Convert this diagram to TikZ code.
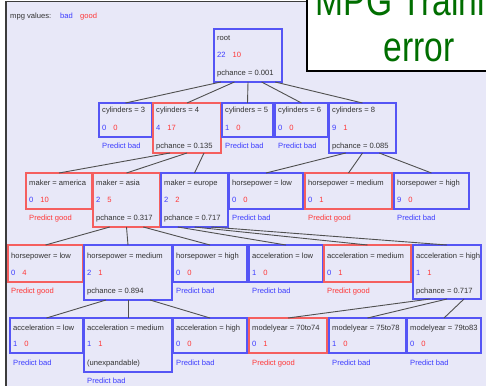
\documentclass[tikz,border=0pt]{standalone}
\usepackage{fontspec}
\setmainfont{Liberation Sans}
\usepackage{graphicx}
\usetikzlibrary{calc}

\definecolor{bgc}{RGB}{232,232,248}
\definecolor{frame}{RGB}{60,60,60}
\definecolor{boxblue}{RGB}{85,85,245}
\definecolor{boxred}{RGB}{245,95,95}
\definecolor{nblue}{RGB}{60,60,255}
\definecolor{nred}{RGB}{255,55,55}
\definecolor{txt}{RGB}{50,50,50}
\definecolor{edgec}{RGB}{80,80,80}
\definecolor{titlegreen}{RGB}{0,110,0}

\tikzset{
  tbx/.style={fill=bgc, line width=1.3pt, inner sep=0pt, outer sep=0pt},
  lbl/.style={anchor=base west, inner sep=0pt, text=txt, font=\fontsize{7.6}{9}\selectfont},
  edge/.style={draw=edgec, line width=0.9pt},
}

% tree node: name, left, right, bottom, border colour, title, bad count, good count, third line
% (top edge and row baselines come from \ytop, \ya, \yb, \yc)
\newcommand\tn[9]{%
  \node[tbx, draw=#5, minimum width={(#3-#2)*1pt}, minimum height={(#4-\ytop)*1pt},
        anchor=north west] (#1) at (#2,\ytop) {};
  \node[lbl] (#1-t) at (#2+3,\ya) {#6};
  \node[lbl] (#1-c) at (#2+3,\yb) {\textcolor{nblue}{#7}\hspace{7pt}\textcolor{nred}{#8}};
  \node[lbl] (#1-p) at (#2+3,\yc) {#9};
}
\newcommand\pbad{\textcolor{nblue}{Predict bad}}
\newcommand\pgood{\textcolor{nred}{Predict good}}

\begin{document}
\begin{tikzpicture}[x=1pt,y=-1pt]
\useasboundingbox (0,0) rectangle (486,385);
\clip (0,0) rectangle (486,385);

% panel
\fill[white] (0,0) rectangle (486,385);
\draw[fill=bgc, draw=frame, line width=1.2pt] (6,1.5) rectangle (495,395);

% legend
\node[lbl] (leg) at (10,18.5) {mpg values:};
\node[lbl, text=nblue] (legbad) at (60,18.5) {bad};
\node[lbl, text=nred] (leggood) at (80,18.5) {good};

% root
\def\ytop{29}\def\ya{41}\def\yb{58}\def\yc{76}
\tn{root}{214}{282}{82}{boxblue}{root}{22}{10}{pchance = 0.001}

% cylinders
\def\ytop{103}\def\ya{112}\def\yb{130}\def\yc{148}
\tn{c3}{99}{152}{137}{boxblue}{cylinders = 3}{0}{0}{\pbad}
\tn{c4}{153}{221}{153}{boxred}{cylinders = 4}{4}{17}{pchance = 0.135}
\tn{c5}{222}{273}{137}{boxblue}{cylinders = 5}{1}{0}{\pbad}
\tn{c6}{275}{328}{137}{boxblue}{cylinders = 6}{0}{0}{\pbad}
\tn{c8}{329}{396}{153}{boxblue}{cylinders = 8}{9}{1}{pchance = 0.085}

% maker / horsepower
\def\ytop{173}\def\ya{185}\def\yb{202}\def\yc{220}
\tn{am}{26}{92}{209}{boxred}{maker = america}{0}{10}{\pgood}
\tn{as}{93}{160}{227}{boxred}{maker = asia}{2}{5}{pchance = 0.317}
\tn{eu}{161}{228}{227}{boxblue}{maker = europe}{2}{2}{pchance = 0.717}
\tn{hl}{229}{303}{209}{boxblue}{horsepower = low}{0}{0}{\pbad}
\tn{hm}{305}{392}{209}{boxred}{horsepower = medium}{0}{1}{\pgood}
\tn{hh}{394}{469}{209}{boxblue}{horsepower = high}{9}{0}{\pbad}

% third level
\def\ytop{245}\def\ya{258}\def\yb{275}\def\yc{293}
\tn{ta}{8}{83}{282}{boxred}{horsepower = low}{0}{4}{\pgood}
\tn{tb}{84}{172}{300}{boxblue}{horsepower = medium}{2}{1}{pchance = 0.894}
\tn{tc}{173}{247}{282}{boxblue}{horsepower = high}{0}{0}{\pbad}
\tn{td}{249}{323}{282}{boxblue}{acceleration = low}{1}{0}{\pbad}
\tn{te}{324}{411}{282}{boxred}{acceleration = medium}{0}{1}{\pgood}
\tn{tf}{413}{481}{299}{boxblue}{acceleration = high}{1}{1}{pchance = 0.717}

% fourth level
\def\ytop{318}\def\ya{330}\def\yb{346}\def\yc{365}
\tn{fa}{10}{83}{353}{boxblue}{acceleration = low}{1}{0}{\pbad}
\tn{fb}{84}{172}{372}{boxblue}{acceleration = medium}{1}{1}{(unexpandable)}
\node[lbl] (fb-x) at (87,383) {\pbad};
\tn{fc}{173}{247}{353}{boxblue}{acceleration = high}{0}{0}{\pbad}
\tn{fd}{249}{327}{353}{boxred}{modelyear = 70to74}{0}{1}{\pgood}
\tn{fe}{329}{406}{353}{boxblue}{modelyear = 75to78}{1}{0}{\pbad}
\tn{ff}{407}{481}{353}{boxblue}{modelyear = 79to83}{0}{0}{\pbad}

% connectors
\foreach \c/\f in {c3/0.1, c4/0.3, c5/0.5, c6/0.7, c8/0.9}
  \draw[edge] ($(root.south west)!\f!(root.south east)$) -- (\c.north);
\foreach \p/\a/\b/\d in {c4/am/as/eu, c8/hl/hm/hh, as/ta/tb/tc, eu/td/te/tf, tb/fa/fb/fc, tf/fd/fe/ff}{
  \draw[edge] ($(\p.south west)!0.25!(\p.south east)$) -- (\a.north);
  \draw[edge] ($(\p.south west)!0.5!(\p.south east)$) -- (\b.north);
  \draw[edge] ($(\p.south west)!0.75!(\p.south east)$) -- (\d.north);
}

% title card
\draw[fill=white, draw=black, line width=1.3pt] (307,-5) rectangle (495,71);
\node[anchor=base, inner sep=0pt, text=titlegreen] (title1) at (419,16)
  {\scalebox{0.8}[1]{\fontsize{42}{46}\selectfont MPG Training}};
\node[anchor=base, inner sep=0pt, text=titlegreen] (title2) at (419,62)
  {\scalebox{0.8}[1]{\fontsize{42}{46}\selectfont error}};
\end{tikzpicture}
\end{document}
